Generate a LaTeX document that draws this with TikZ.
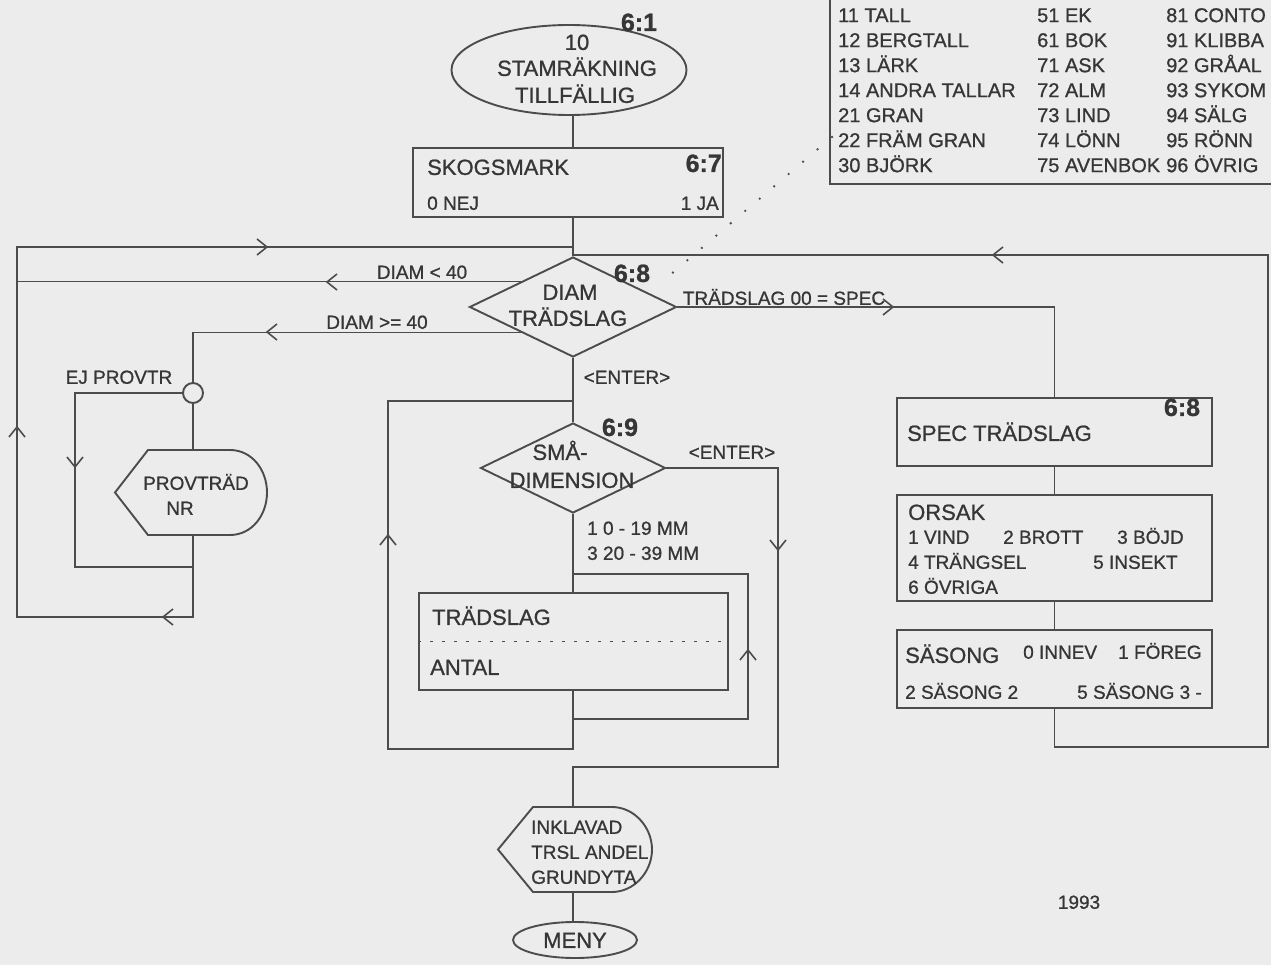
\documentclass[tikz,border=0pt]{standalone}
\usepackage{fontspec}
\setmainfont{Liberation Sans}[FakeBold=0.9]
\usetikzlibrary{shapes.geometric}
\definecolor{paper}{HTML}{ECECEC}
\definecolor{inkc}{HTML}{4C4C4C}
\definecolor{txt}{HTML}{363636}
\tikzset{
  conn/.style={draw=inkc, line width=1.9pt},
  boxst/.style={draw=inkc, line width=1.9pt, rectangle, inner sep=0pt},
  txtbig/.style={text=txt, inner sep=0pt, text height=15.8pt, text depth=0pt, font=\fontsize{22}{26}\selectfont},
  txtsmall/.style={text=txt, inner sep=0pt, text height=13.6pt, text depth=0pt, font=\fontsize{19}{23}\selectfont},
  tabtxt/.style={text=txt, inner sep=0pt, text height=14.3pt, text depth=0pt, anchor=west, font=\fontsize{20}{24}\selectfont},
  numlab/.style={text=txt, inner sep=0pt, text height=17.9pt, text depth=0pt, font=\bfseries\fontsize{25}{28}\selectfont},
  chev/.pic={\draw[inkc, line width=1.6pt] (-10,-8) -- (0,0) -- (-10,8);}
}
\begin{document}
\begin{tikzpicture}[x=1pt,y=-1pt]
\useasboundingbox (0,0) rectangle (1271,965);
\fill[paper] (0,0) rectangle (1271,965);
\coordinate (mx) at (573,0);

% ---------- species table ----------
\node[inner sep=0, minimum width=441pt, minimum height=184pt, anchor=north west] (tab) at (830,0) {};
\draw[conn] (tab.north west) -- (tab.south west) -- (tab.south east);
\foreach \a/\b/\c [count=\i from 0] in {
  11 TALL/51 EK/81 CONTO,
  12 BERGTALL/61 BOK/91 KLIBBA,
  13 LÄRK/71 ASK/92 GRÅAL,
  14 ANDRA TALLAR/72 ALM/93 SYKOM,
  21 GRAN/73 LIND/94 SÄLG,
  22 FRÄM GRAN/74 LÖNN/95 RÖNN,
  30 BJÖRK/75 AVENBOK/96 ÖVRIG}{
  \node[tabtxt] (ta\i) at (838,{15+25*\i}) {\a};
  \node[tabtxt] (tb\i) at (1037,{15+25*\i}) {\b};
  \node[tabtxt] (tc\i) at (1166,{15+25*\i}) {\c};
}
\coordinate (dotA) at (832,137);
\coordinate (dotB) at (663,281);
\draw[inkc, line width=2.6pt, line cap=round, dash pattern=on 0pt off 19pt] (dotA) -- (dotB);

% ---------- start ----------
\node[ellipse, draw=inkc, line width=1.9pt, minimum width=235pt, minimum height=90pt, inner sep=0] (start) at (569,70) {};
\node[txtbig] (st1) at (577,42) {10};
\node[txtbig] (st2) at (577,68) {STAMRÄKNING};
\node[txtbig] (st3) at (575,95) {TILLFÄLLIG};
\node[numlab] (n61) at (639,22) {6:1};

% ---------- skogsmark ----------
\node[boxst, minimum width=310pt, minimum height=69pt] (skog) at (568,182.5) {};
\node[txtbig, anchor=west] (skogt) at (427,167) {SKOGSMARK};
\node[txtsmall, anchor=west] (nej) at (427,203) {0 NEJ};
\node[numlab, anchor=east] (n67) at (722,163) {6:7};
\node[txtsmall, anchor=east] (ja) at (719,203) {1 JA};

% ---------- diamond 6:8 ----------
\node[diamond, draw=inkc, line width=1.9pt, minimum width=207pt, minimum height=100pt, inner sep=0] (d68) at (573,307) {};
\node[txtbig] (dt1) at (570,292) {DIAM};
\node[txtbig] (dt2) at (568,318) {TRÄDSLAG};
\node[numlab] (n68) at (632,273) {6:8};
\node[txtsmall] (l40) at (422,272) {DIAM < 40};
\node[txtsmall] (g40) at (377,322) {DIAM >= 40};
\node[txtsmall] (spec00) at (784,298) {TRÄDSLAG 00 = SPEC};
\node[txtsmall] (ent1) at (627,377) {<ENTER>};

% ---------- provtrad ----------
\node[circle, draw=inkc, line width=1.9pt, minimum size=20pt, inner sep=0] (circ) at (193,393) {};
\node[txtsmall] (ejp) at (119,377) {EJ PROVTR};
\node[inner sep=0, minimum width=152pt, minimum height=85pt] (prov) at (191,492.5) {};
\draw[conn] (115,492.5) -- (148,450) -- (230,450) .. controls (252,450) and (267,470) .. (267,492.5)
  .. controls (267,515) and (252,535) .. (230,535) -- (148,535) -- cycle;
\node[txtsmall] (pt1) at (196,483) {PROVTRÄD};
\node[txtsmall] (pt2) at (180,508) {NR};

% ---------- diamond 6:9 ----------
\node[diamond, draw=inkc, line width=1.9pt, minimum width=185pt, minimum height=90pt, inner sep=0] (d69) at (573,468) {};
\node[txtbig] (sm1) at (560,452) {SMÅ-};
\node[txtbig] (sm2) at (572,480) {DIMENSION};
\node[numlab] (n69) at (620,427) {6:9};
\node[txtsmall] (ent2) at (732,452) {<ENTER>};
\node[txtsmall, anchor=west] (mm1) at (587,528) {1 0 - 19 MM};
\node[txtsmall, anchor=west] (mm2) at (587,553) {3 20 - 39 MM};

\node[boxst, minimum width=309pt, minimum height=97pt] (tbox) at (573.5,641.5) {};
\draw[inkc, line width=1.2pt, dash pattern=on 3pt off 9pt] (tbox.west) -- (tbox.east);
\node[txtbig, anchor=west] (tsl) at (432,617) {TRÄDSLAG};
\node[txtbig, anchor=west] (ant) at (430,667) {ANTAL};

% ---------- end ----------
\node[inner sep=0, minimum width=154pt, minimum height=85pt] (inkl) at (575,849.5) {};
\draw[conn] (498,849.5) -- (533,807) -- (612,807) .. controls (634,807) and (652,827) .. (652,849.5)
  .. controls (652,872) and (634,892) .. (612,892) -- (533,892) -- cycle;
\node[txtsmall, anchor=west] (ik1) at (531,827) {INKLAVAD};
\node[txtsmall, anchor=west] (ik2) at (531,852) {TRSL ANDEL};
\node[txtsmall, anchor=west] (ik3) at (531,877) {GRUNDYTA};
\node[ellipse, draw=inkc, line width=1.9pt, minimum width=124pt, minimum height=36pt, inner sep=0, txtbig] (meny) at (575,940) {MENY};
\node[txtsmall] (yr) at (1079,902) {1993};

% ---------- right column ----------
\node[boxst, minimum width=315pt, minimum height=68pt] (spec) at (1054.5,432) {};
\node[txtbig, anchor=west] (spect) at (907,433) {SPEC TRÄDSLAG};
\node[numlab] (n68b) at (1182,407) {6:8};

\node[boxst, minimum width=315pt, minimum height=106pt] (ors) at (1054.5,548) {};
\node[txtbig, anchor=west] (orst) at (908,512) {ORSAK};
\node[txtsmall, anchor=west] (o1) at (908,537) {1 VIND};
\node[txtsmall, anchor=west] (o2) at (1003,537) {2 BROTT};
\node[txtsmall, anchor=west] (o3) at (1117,537) {3 BÖJD};
\node[txtsmall, anchor=west] (o4) at (908,562) {4 TRÄNGSEL};
\node[txtsmall, anchor=west] (o5) at (1093,562) {5 INSEKT};
\node[txtsmall, anchor=west] (o6) at (908,587) {6 ÖVRIGA};

\node[boxst, minimum width=315pt, minimum height=78pt] (sas) at (1054.5,669) {};
\node[txtbig, anchor=west] (sast) at (905,655) {SÄSONG};
\node[txtsmall, anchor=west] (s0) at (1023,652) {0 INNEV};
\node[txtsmall, anchor=west] (s1) at (1118,652) {1 FÖREG};
\node[txtsmall, anchor=west] (s2) at (905,692) {2 SÄSONG 2};
\node[txtsmall, anchor=west] (s5) at (1077,692) {5 SÄSONG 3 -};

% ---------- connectors ----------
\coordinate (LTop) at (17,247);
\coordinate (LBot) at (17,617);
\coordinate (PBot) at (193,617);
\coordinate (EjL) at (75,393);
\coordinate (EjB) at (75,567);
\coordinate (RBot) at (1268,747);
\coordinate (RTop) at (1268,255);
\coordinate (L9T) at (388,401);
\coordinate (L9B) at (388,749);
\coordinate (I9T) at (748,574);
\coordinate (I9B) at (748,719);
\coordinate (E9B) at (778,767);

\draw[conn] (start.south -| mx) -- (skog.north -| mx);
\draw[conn] (skog.south -| mx) -- (d68.north);
\draw[conn] (prov.south -| PBot) -- (PBot) -- (LBot) -- (LTop) -- (LTop -| mx);
\draw[conn] (d68.north west) -- (d68.north west -| LTop);
\draw[conn] (d68.south west) -- (d68.south west -| circ) -- (circ.north);
\draw[conn] (circ.south) -- (circ.south |- prov.north);
\draw[conn] (circ.west) -- (EjL) -- (EjB) -- (EjB -| circ);
\draw[conn] (d68.east) -- (d68.east -| spec.north) -- (spec.north);
\draw[conn] (spec.south) -- (ors.north);
\draw[conn] (ors.south) -- (sas.north);
\draw[conn] (sas.south) -- (sas.south |- RBot) -- (RBot) -- (RTop) -- (RTop -| mx);
\draw[conn] (d68.south) -- (d69.north);
\draw[conn] (d69.south) -- (tbox.north -| mx);
\draw[conn] (tbox.south -| mx) -- (L9B -| mx) -- (L9B) -- (L9T) -- (L9T -| mx);
\draw[conn] (I9B -| mx) -- (I9B) -- (I9T) -- (I9T -| mx);
\draw[conn] (d69.east) -- (d69.east -| E9B) -- (E9B) -- (E9B -| mx) -- (inkl.north -| mx);
\draw[conn] (inkl.south -| mx) -- (meny.north -| mx);

% ---------- direction marks ----------
\pic at (267,247) {chev};
\pic[rotate=180] at (327,282) {chev};
\pic[rotate=180] at (267,332) {chev};
\pic[rotate=90] at (17,427) {chev};
\pic[rotate=-90] at (75,467) {chev};
\pic[rotate=180] at (163,617) {chev};
\pic[rotate=90] at (388,535) {chev};
\pic[rotate=-90] at (778,550) {chev};
\pic[rotate=90] at (748,650) {chev};
\pic at (893,307) {chev};
\pic[rotate=180] at (993,255) {chev};
\end{tikzpicture}
\end{document}
